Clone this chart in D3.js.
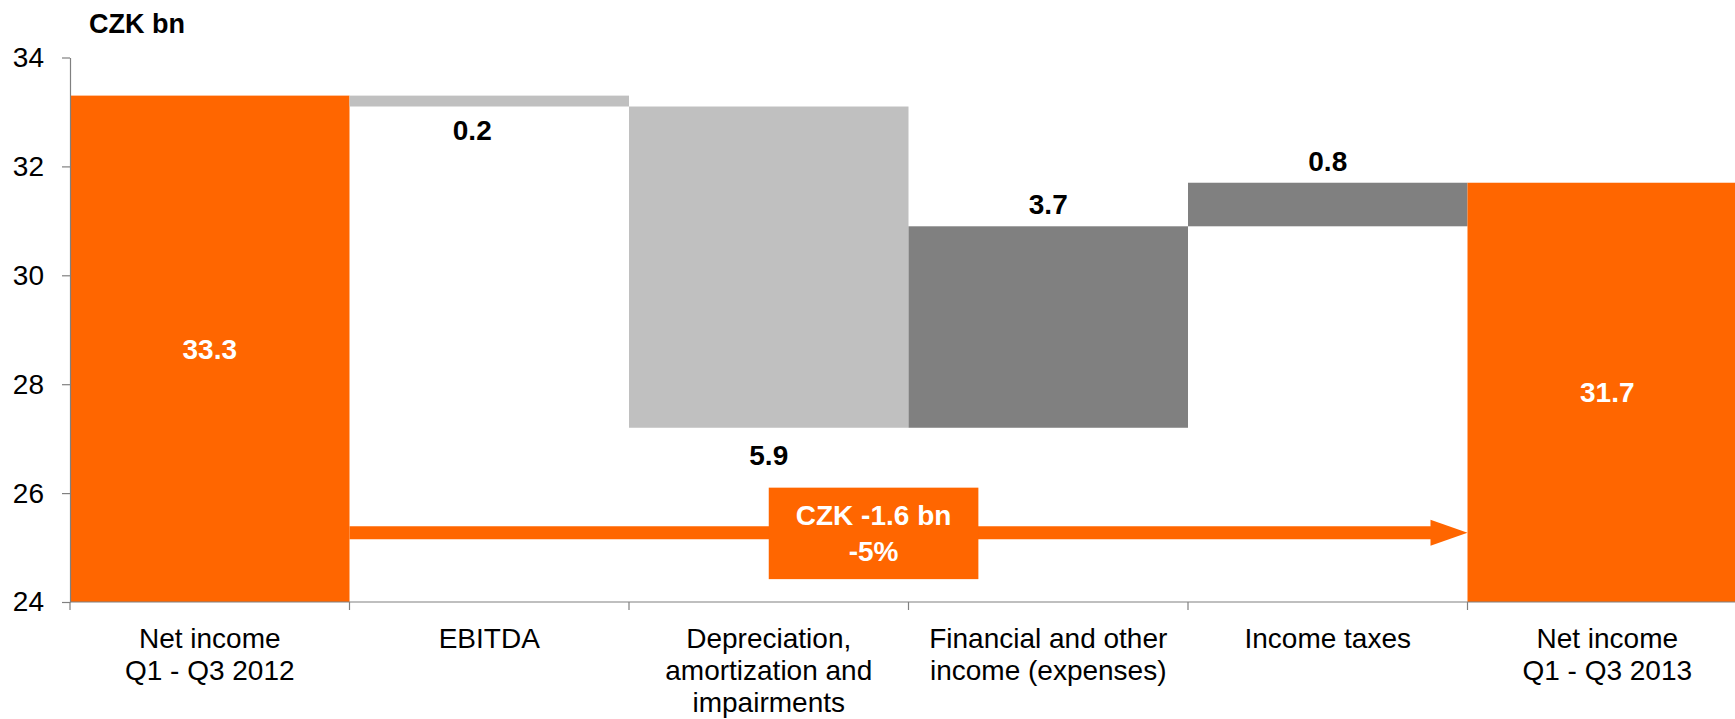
<!DOCTYPE html>
<html>
<head>
<meta charset="utf-8">
<script src="https://cdn.jsdelivr.net/npm/d3@7"></script>
<style>
  body { margin: 0; background: #fff; }
  text { font-family: "Liberation Sans", Arial, sans-serif; }
  .axis path, .axis line { stroke: #808080; stroke-width: 1.2; }
</style>
</head>
<body>
<script>
var categories = [
  ["Net income", "Q1 - Q3 2012"],
  ["EBITDA"],
  ["Depreciation,", "amortization and", "impairments"],
  ["Financial and other", "income (expenses)"],
  ["Income taxes"],
  ["Net income", "Q1 - Q3 2013"]
];
var barBottom = [24, 33.1, 27.2, 27.2, 30.9, 24];
var barTop = [33.3, 33.3, 33.1, 30.9, 31.7, 31.7];
var valueLabels = ["33.3", "0.2", "5.9", "3.7", "0.8", "31.7"];
var barKind = ["total", "down", "down", "up", "up", "total"];
var yTicks = [24, 26, 28, 30, 32, 34];
var deltaText = ["CZK -1.6 bn", "-5%"];
var arrowLevel = 25.27;
var boxRange = [24.42, 26.1];

var width = 1735, height = 719;
var margin = { top: 57.5, left: 70, bottom: 117 };

var colors = { total: "#FF6600", down: "#C0C0C0", up: "#808080" };

var svg = d3.select("body").append("svg")
  .attr("width", width)
  .attr("height", height);

var keys = categories.map(function(c, i) { return "c" + i; });

// last band runs past the right edge, like in the original slide
var x = d3.scaleBand()
  .domain(keys)
  .range([margin.left, 1747])
  .padding(0);

var y = d3.scaleLinear()
  .domain([24, 34])
  .range([height - margin.bottom, margin.top]);

var bw = x.bandwidth();

// bars
svg.selectAll("rect.bar")
  .data(keys)
  .enter()
  .append("rect")
  .attr("class", "bar")
  .attr("x", function(d) { return x(d); })
  .attr("y", function(d, i) { return y(barTop[i]); })
  .attr("width", bw)
  .attr("height", function(d, i) { return y(barBottom[i]) - y(barTop[i]); })
  .attr("fill", function(d, i) { return colors[barKind[i]]; });

// value labels (the EBITDA one sits a bit left of centre in the original)
var labelNudge = { 1: [-17, -4] };
svg.selectAll("text.val")
  .data(keys)
  .enter()
  .append("text")
  .attr("class", "val")
  .attr("x", function(d, i) { return x(d) + bw / 2 + (labelNudge[i] ? labelNudge[i][0] : 0); })
  .attr("y", function(d, i) {
    var n = labelNudge[i] ? labelNudge[i][1] : 0;
    if (barKind[i] == "total") return (y(barTop[i]) + y(barBottom[i])) / 2;
    if (barKind[i] == "down") return y(barBottom[i]) + 27 + n;
    return y(barTop[i]) - 22 + n;
  })
  .attr("dy", "0.36em")
  .attr("text-anchor", "middle")
  .attr("font-weight", "bold")
  .attr("font-size", 28)
  .attr("fill", function(d, i) { return barKind[i] == "total" ? "#fff" : "#000"; })
  .text(function(d, i) { return valueLabels[i]; });

// change arrow
var ay = y(arrowLevel);
var x0 = x("c0") + bw, x1 = x("c5");
svg.append("line")
  .attr("x1", x0).attr("x2", x1 - 34)
  .attr("y1", ay).attr("y2", ay)
  .attr("stroke", "#FF6600")
  .attr("stroke-width", 13);
svg.append("path")
  .attr("d", "M" + (x1 - 37) + "," + (ay - 13) + " L" + x1 + "," + ay + " L" + (x1 - 37) + "," + (ay + 13) + " Z")
  .attr("fill", "#FF6600");

// change box
var bx0 = x("c2") + bw / 2, bx1 = x("c3") + bw / 4;
svg.append("rect")
  .attr("x", bx0)
  .attr("y", y(boxRange[1]))
  .attr("width", bx1 - bx0)
  .attr("height", y(boxRange[0]) - y(boxRange[1]))
  .attr("fill", "#FF6600");
svg.append("text")
  .attr("x", (bx0 + bx1) / 2)
  .attr("y", (y(boxRange[0]) + y(boxRange[1])) / 2)
  .attr("text-anchor", "middle")
  .attr("font-weight", "bold")
  .attr("font-size", 28)
  .attr("fill", "#fff")
  .selectAll("tspan")
  .data(deltaText)
  .enter()
  .append("tspan")
  .attr("x", (bx0 + bx1) / 2)
  .attr("dy", function(d, i) { return i == 0 ? "-0.3em" : "1.3em"; })
  .text(function(d) { return d; });

// y axis
var yAxis = d3.axisLeft(y).tickValues(yTicks).tickSize(8).tickSizeOuter(0).tickPadding(18);
var gy = svg.append("g")
  .attr("class", "axis")
  .attr("transform", "translate(" + margin.left + ",0)")
  .call(yAxis);
gy.selectAll("text")
  .attr("font-size", 28)
  .attr("fill", "#000");

// x axis line and band boundaries
var gx = svg.append("g").attr("class", "axis");
gx.append("line")
  .attr("x1", margin.left).attr("x2", width)
  .attr("y1", y(24)).attr("y2", y(24));
gx.selectAll("line.tick")
  .data(keys)
  .enter()
  .append("line")
  .attr("class", "tick")
  .attr("x1", function(d) { return x(d); })
  .attr("x2", function(d) { return x(d); })
  .attr("y1", y(24)).attr("y2", y(24) + 8);

// category labels
var cl = svg.selectAll("text.cat")
  .data(keys)
  .enter()
  .append("text")
  .attr("class", "cat")
  .attr("text-anchor", "middle")
  .attr("font-size", 28)
  .attr("fill", "#000")
  .attr("y", y(24) + 46);
cl.selectAll("tspan")
  .data(function(d, i) { return categories[i].map(function(t) { return { key: d, t: t }; }); })
  .enter()
  .append("tspan")
  .attr("x", function(d) { return x(d.key) + bw / 2; })
  .attr("dy", function(d, i) { return i == 0 ? 0 : 32; })
  .text(function(d) { return d.t; });

// unit title
svg.append("text")
  .attr("x", 89)
  .attr("y", 33)
  .attr("font-weight", "bold")
  .attr("font-size", 27)
  .text("CZK bn");
</script>
</body>
</html>
